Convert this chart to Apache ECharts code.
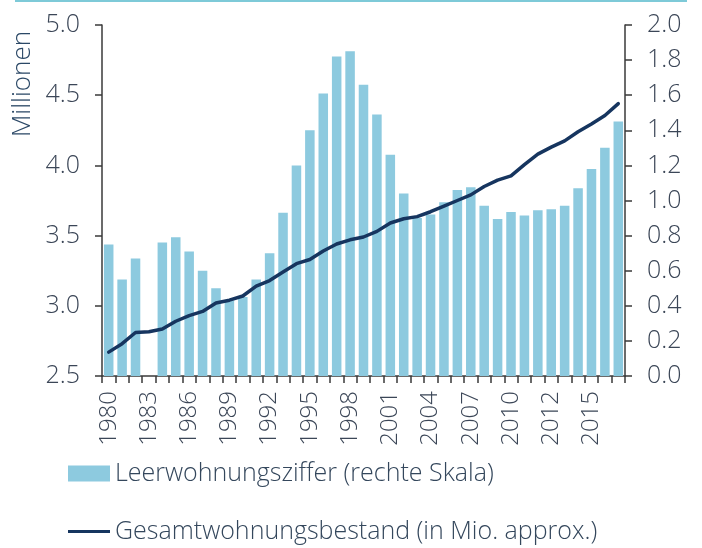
<!DOCTYPE html>
<html>
<head>
<meta charset="utf-8">
<script src="https://cdn.jsdelivr.net/npm/echarts@6/dist/echarts.min.js"></script>
<style>
html,body{margin:0;padding:0;background:#fff;}
#chart{width:702px;height:548px;}
</style>
</head>
<body>
<div id="chart"></div>
<script>
var categories = ['1980','1981','1982','1983','1984','1985','1986','1987','1988','1989',
  '1990','1991','1992','1993','1994','1995','1996','1997','1998','1999',
  '2000','2001','2002','2003','2004','2005','2006','2007','2008','2009',
  '2010','2010/11','2011','2012','2013','2014','2015','2016','2017'];

var vacancyRate = [0.75, 0.55, 0.67, null, 0.76, 0.79, 0.71, 0.60, 0.50, 0.43,
  0.45, 0.55, 0.70, 0.93, 1.20, 1.40, 1.61, 1.82, 1.85, 1.66,
  1.49, 1.26, 1.04, 0.90, 0.92, 0.99, 1.06, 1.075, 0.97, 0.895,
  0.935, 0.915, 0.945, 0.95, 0.97, 1.07, 1.18, 1.30, 1.45];

var housingStock = [2.67, 2.73, 2.81, 2.815, 2.835, 2.89, 2.93, 2.96, 3.02, 3.04,
  3.07, 3.14, 3.18, 3.24, 3.30, 3.33, 3.39, 3.44, 3.47, 3.49,
  3.53, 3.59, 3.62, 3.635, 3.67, 3.71, 3.75, 3.79, 3.85, 3.895,
  3.925, 4.005, 4.08, 4.13, 4.175, 4.24, 4.295, 4.355, 4.44];

var leftTicks = {min: 2.5, max: 5.0, interval: 0.5};
var rightTicks = {min: 0, max: 2.0, interval: 0.2};

var barName = 'Leerwohnungsziffer (rechte Skala)';
var lineName = 'Gesamtwohnungsbestand (in Mio. approx.)';
var leftAxisTitle = 'Millionen';

var FONT = '"Open Sans"';
var TXT = '#3b4657';
var AXIS = '#3a3a3a';

var chart = echarts.init(document.getElementById('chart'), null, {renderer: 'canvas'});
chart.setOption({
  backgroundColor: '#ffffff',
  animation: false,
  graphic: [{
    type: 'rect', left: 15, top: 0,
    shape: {width: 672, height: 2},
    style: {fill: '#7ecad8'}
  }, {
    type: 'text',
    x: 23, y: 84,
    rotation: Math.PI / 2,
    style: {
      text: leftAxisTitle,
      fill: '#2b4866',
      font: '300 26px "Open Sans"',
      align: 'center',
      verticalAlign: 'middle'
    }
  }],
  grid: {left: 102, right: 77, top: 25, bottom: 172, containLabel: false},
  legend: [{
    data: [barName],
    left: 68, top: 461, padding: 0,
    icon: 'rect', itemWidth: 42, itemHeight: 16,
    textStyle: {fontFamily: FONT, fontSize: 25, color: '#34475c', fontWeight: 300}
  }, {
    data: [lineName],
    left: 68, top: 519, padding: 0,
    icon: 'rect', itemWidth: 42, itemHeight: 3,
    textStyle: {fontFamily: FONT, fontSize: 25, color: '#34475c', fontWeight: 300}
  }],
  xAxis: {
    type: 'category',
    data: categories,
    boundaryGap: true,
    axisLine: {show: true, lineStyle: {color: AXIS, width: 1.5}},
    axisTick: {show: true, interval: 0, length: 7, lineStyle: {color: AXIS, width: 1.5}},
    axisLabel: {interval: 2, rotate: 90, margin: 15, fontFamily: FONT, fontSize: 24, color: TXT, fontWeight: 300}
  },
  yAxis: [{
    type: 'value',
    min: leftTicks.min, max: leftTicks.max, interval: leftTicks.interval,
    splitLine: {show: false},
    axisLine: {show: true, lineStyle: {color: AXIS, width: 1.5}},
    axisTick: {show: true, length: 7, lineStyle: {color: AXIS, width: 1.5}},
    axisLabel: {margin: 22, fontFamily: FONT, fontSize: 25, color: TXT, fontWeight: 300,
      formatter: function (v) { return v.toFixed(1); }}
  }, {
    type: 'value',
    position: 'right',
    min: rightTicks.min, max: rightTicks.max, interval: rightTicks.interval,
    splitLine: {show: false},
    axisLine: {show: true, lineStyle: {color: AXIS, width: 1.5}},
    axisTick: {show: true, length: 7, lineStyle: {color: AXIS, width: 1.5}},
    axisLabel: {margin: 22, fontFamily: FONT, fontSize: 25, color: TXT, fontWeight: 300,
      formatter: function (v) { return v.toFixed(1); }}
  }],
  series: [{
    name: barName,
    type: 'bar',
    yAxisIndex: 1,
    data: vacancyRate,
    barCategoryGap: '29%',
    itemStyle: {color: '#8dcadf'}
  }, {
    name: lineName,
    type: 'line',
    yAxisIndex: 0,
    data: housingStock,
    showSymbol: false,
    symbol: 'none',
    lineStyle: {color: '#16355f', width: 3.5, cap: 'round', join: 'round'},
    itemStyle: {color: '#16355f'},
    z: 5
  }]
});
</script>
</body>
</html>
